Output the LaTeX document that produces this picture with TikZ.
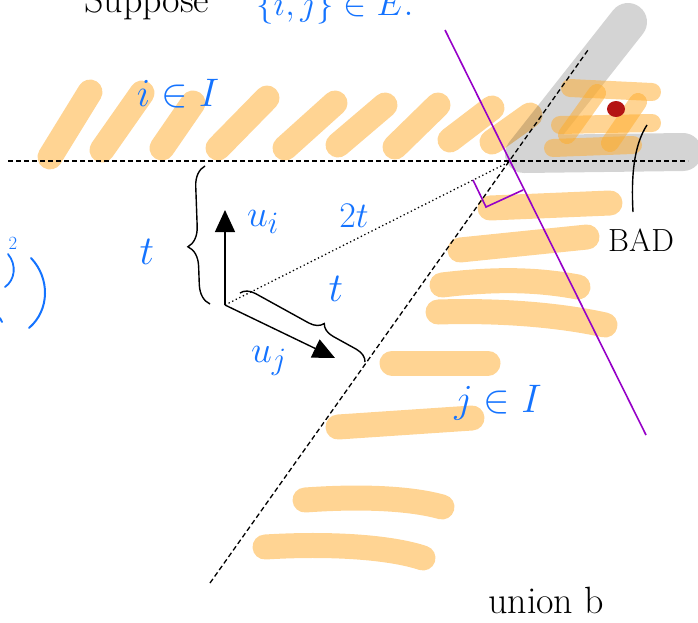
\documentclass[tikz,border=0pt]{standalone}
\usetikzlibrary{decorations.pathreplacing,arrows.meta}
\definecolor{hlorange}{RGB}{255,170,40}
\definecolor{penblue}{RGB}{20,115,255}
\definecolor{penpurple}{RGB}{150,0,200}
\definecolor{badred}{RGB}{180,20,20}
\newcommand{\hmath}[2]{\scalebox{#1}{\fontsize{24.88}{30}\selectfont$#2$}}
\tikzset{
  hl/.style={line width=25pt, line cap=round, draw=hlorange, draw opacity=0.5},
  hlsmall/.style={line width=18pt, line cap=round, draw=hlorange, draw opacity=0.5},
  badzone/.style={line width=38pt, line cap=round, line join=round, draw=black, draw opacity=0.17},
  guide/.style={draw=black, line width=1.3pt, dash pattern=on 5pt off 3pt},
  dotline/.style={draw=black, line width=1.3pt, dash pattern=on 1.3pt off 2.7pt},
  vecarrow/.style={draw=black, line width=1.4pt, -{Triangle[length=22pt,width=20pt]}},
  bracepen/.style={draw=black, line width=1.4pt, decorate},
  bluelabel/.style={text=penblue, inner sep=0pt},
  blacklabel/.style={text=black, inner sep=0pt},
  perp/.style={draw=penpurple, line width=1.6pt}
}
\begin{document}
\begin{tikzpicture}[x=1pt,y=-1pt]
\useasboundingbox (0,0) rectangle (698,622);
% top row highlights (i in I)
\draw[hl] (50,157) -- (90,92);
\draw[hl] (102,150) -- (142,93);
\draw[hl] (162,148) -- (193,103);
\draw[hl] (218,148) -- (267,98);
\draw[hl] (285,148) -- (335,103);
\draw[hl] (338,145) -- (385,105);
\draw[hl] (395,147) -- (438,105);
\draw[hl] (450,140) -- (492,108);
\draw[hl] (492,142) -- (530,115);
% right column highlights (j in I)
\draw[hl] (490,208) -- (610,203);
\draw[hl] (460,250) -- (587,237);
\draw[hl] (442,285) .. controls (500,278) and (540,280) .. (578,287);
\draw[hl] (438,312) .. controls (500,310) and (560,315) .. (605,325);
\draw[hl] (392,363) -- (488,363);
\draw[hl] (338,427) -- (472,418);
\draw[hl] (305,500) .. controls (360,496) and (410,498) .. (442,507);
\draw[hl] (265,547) .. controls (330,543) and (390,547) .. (423,558);
% bad zone
\draw[badzone] (628,22) -- (524,154) -- (683,152);
\draw[hlsmall] (570,88) -- (652,92);
\draw[hlsmall] (560,125) -- (652,123);
\draw[hlsmall] (553,148) -- (633,145);
\draw[hlsmall] (567,135) -- (597,93);
\draw[hlsmall] (610,143) -- (638,102);
\fill[badred] (616,109) ellipse [x radius=9pt, y radius=8pt];
% guide lines
\coordinate (hl) at (8,161);
\coordinate (hr) at (688,161);
\coordinate (dl) at (210,583);
\coordinate (du) at (588,50);
\coordinate (cross) at (511,161);
\draw[guide] (hl) -- (hr);
\draw[guide] (dl) -- (du);
% vectors
\coordinate (o) at (225,305);
\coordinate (ui) at (225,210);
\coordinate (uj) at (335,358);
\draw[dotline] (o) -- (cross);
\draw[vecarrow] (o) -- (ui);
\draw[vecarrow] (o) -- (uj);
% braces
\coordinate (b1s) at (210,304);
\coordinate (b1e) at (205,166);
\draw[bracepen, decoration={brace, amplitude=20pt, aspect=0.42}] (b1s) -- (b1e);
\coordinate (b2s) at (240,293);
\coordinate (b2e) at (365,362);
\draw[bracepen, decoration={brace, amplitude=14pt, aspect=0.62}] (b2s) -- (b2e);
% perpendicular line
\coordinate (pt) at (445,30);
\coordinate (pb) at (646,435);
\coordinate (ra) at (473,180);
\coordinate (rc) at (486,207);
\coordinate (rb) at (523,190);
\draw[perp] (pt) -- (pb);
\draw[perp] (ra) -- (rc) -- (rb);
% BAD pointer
\coordinate (badtop) at (647,125);
\coordinate (badbot) at (633,212);
\draw[line width=1.4pt] (badtop) .. controls (634,145) and (631,175) .. (badbot);
% labels
\node[blacklabel, anchor=base west, font=\fontsize{38}{38}\selectfont] (sup) at (84,12) {Suppose};
\node[bluelabel, anchor=base west] (edge) at (256,15) {\hmath{1.4}{\{i,j\}\in E.}};
\node[bluelabel] (ilab) at (178,94) {\hmath{1.6}{i\in I}};
\node[bluelabel] (jlab) at (498,403) {\hmath{1.6}{j\in I}};
\node[bluelabel] (uilab) at (263,222) {\hmath{1.5}{u_i}};
\node[bluelabel] (ujlab) at (269,361) {\hmath{1.5}{u_j}};
\node[bluelabel] (twot) at (354,216) {\hmath{1.45}{2t}};
\node[bluelabel] (tlab) at (336,289) {\hmath{1.65}{t}};
\node[bluelabel] (tleft) at (147,252) {\hmath{1.65}{t}};
\node[blacklabel, font=\fontsize{32}{32}\selectfont] (bad) at (641,240) {BAD};
\node[blacklabel, anchor=base west, font=\fontsize{38}{38}\selectfont] (union) at (488,613) {union b};
% cut-off formula at left
\node[bluelabel] (sq) at (13,243) {\hmath{0.75}{2}};
\draw[penblue, line width=1.8pt, line cap=round] (8,254) .. controls (17,265) and (15,280) .. (5,287);
\draw[penblue, line width=2pt, line cap=round] (31,258) .. controls (50,278) and (50,310) .. (29,328);
\draw[penblue, line width=1.8pt, line cap=round] (0,318) -- (2,322);
\end{tikzpicture}
\end{document}
